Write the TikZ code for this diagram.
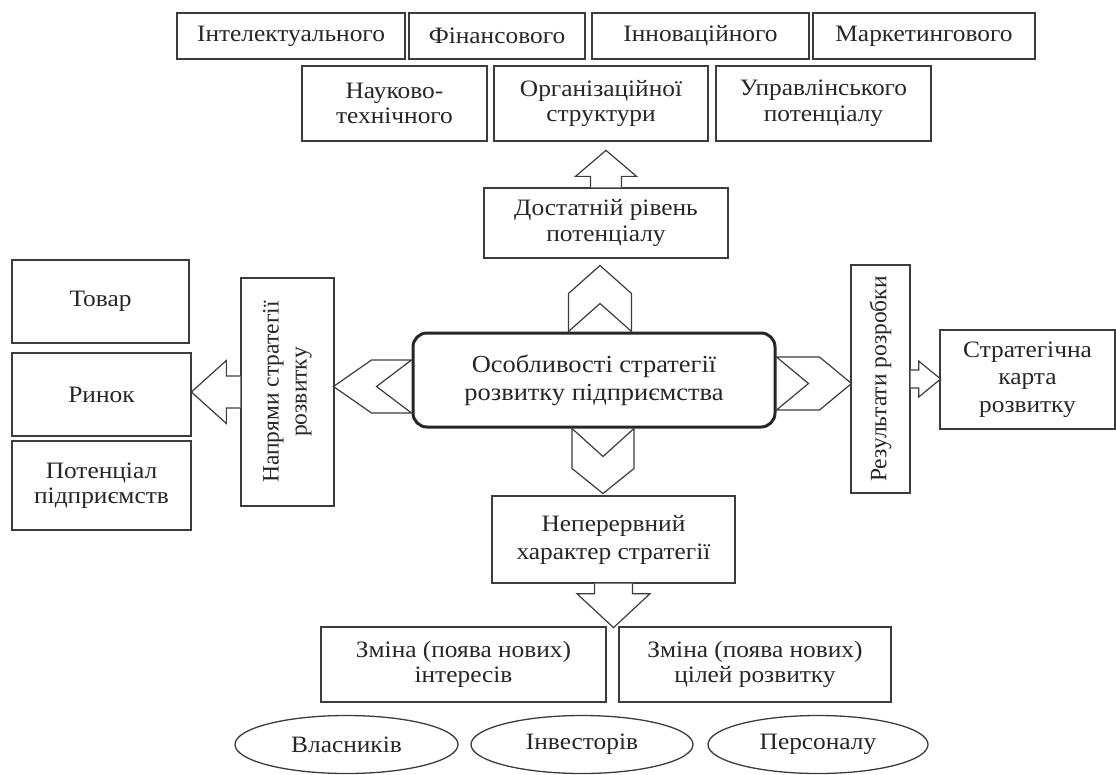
\documentclass[tikz,border=0pt]{standalone}
\usepackage{fontspec}
\setmainfont{Liberation Serif}[FakeStretch=1.08]
\newfontfamily\rotfont{Liberation Serif}
\usetikzlibrary{calc,shapes.geometric}
\definecolor{edge}{HTML}{3C3C3C}

\begin{document}
\begin{tikzpicture}[x=1pt, y=-1pt, box/.style={draw=edge, line width=1.3pt, fill=white, inner sep=0pt, align=center, text=black!85, font=\fontsize{23.5}{25.5}\selectfont}, core/.style={box, draw=black!85, line width=3pt, rounded corners=14pt, font=\fontsize{24.5}{28}\selectfont}, oval/.style={box, ellipse}, sideways/.style={box, rotate=90, font=\rotfont\fontsize{23.5}{28}\selectfont}, blk/.style={draw=edge, line width=1.2pt, fill=white}]
        \useasboundingbox (0,0) rectangle (1116,774);
        \node[box, minimum width=228pt, minimum height=46pt] (intel) at (291,36) {Інтелектуального};
        \node[box, minimum width=176pt, minimum height=46pt] (fin) at (497,36) {Фінансового};
        \node[box, minimum width=217pt, minimum height=46pt] (innov) at (700.5,36) {Інноваційного};
        \node[box, minimum width=222pt, minimum height=46pt] (market) at (924,36) {Маркетингового};
        \node[box, minimum width=185pt, minimum height=75pt] (sci) at (394.5,103.5) {Науково-\\технічного};
        \node[box, minimum width=214pt, minimum height=75pt] (org) at (601,103.5) {Організаційної\\структури};
        \node[box, minimum width=215pt, minimum height=75pt] (manag) at (823.5,103.5) {Управлінського\\потенціалу};
        \node[box, minimum width=244pt, minimum height=70pt] (dost) at (606,223) {Достатній рівень\\потенціалу};
        \node[core, minimum width=362pt, minimum height=94pt] (core) at (594,380) {Особливості стратегії\\розвитку підприємства};
        \node[sideways, minimum width=228pt, minimum height=93pt] (napr) at (287.5,392) {Напрями стратегії\\розвитку};
        \node[box, minimum width=177pt, minimum height=83pt] (tovar) at (100.5,301.5) {Товар};
        \node[box, minimum width=179pt, minimum height=83pt] (rynok) at (101.5,394.5) {Ринок};
        \node[box, minimum width=179pt, minimum height=89pt] (potenc) at (101.5,485.5) {Потенціал\\підприємств};
        \node[sideways, minimum width=228pt, minimum height=59pt] (rezult) at (880.5,379) {Результати розробки};
        \node[box, minimum width=175pt, minimum height=99pt, font=\fontsize{23.5}{27.5}\selectfont] (strat) at (1027.5,379.5) {Стратегічна\\карта\\розвитку};
        \node[box, minimum width=243pt, minimum height=87pt, font=\fontsize{23.5}{28}\selectfont] (nep) at (613.5,539.5) {Неперервний\\характер стратегії};
        \node[box, minimum width=285pt, minimum height=75pt] (zmina1) at (463.5,664.5) {Зміна (поява нових)\\інтересів};
        \node[box, minimum width=272pt, minimum height=75pt] (zmina2) at (755,664.5) {Зміна (поява нових)\\цілей розвитку};
        \node[oval, minimum width=223pt, minimum height=58pt] (vlasn) at (346.5,744.5) {Власників};
        \node[oval, minimum width=222pt, minimum height=58pt] (invest) at (582,744.5) {Інвесторів};
        \node[oval, minimum width=220pt, minimum height=58pt] (pers) at (818,744.5) {Персоналу};
        \draw[blk] ($(dost.north)+(-15.5,0)$) -- ++(0,-11) -- ++(-15,0) -- ++(30.5,-26) -- ++(30.5,26) -- ++(-15,0) -- ++(0,11);
        \draw[blk] ($(napr.north)+(0,-16)$) -- ++(-14,0) -- ++(0,-15.5) -- ++(-35,31.5) -- ++(35,31.5) -- ++(0,-15.5) -- ++(14,0);
        \draw[blk] ($(rezult.south)+(0,-9)$) -- ++(8,0) -- ++(0,-9) -- ++(22,18) -- ++(-22,18) -- ++(0,-9) -- ++(-8,0);
        \draw[blk] ($(nep.south)+(-19,0)$) -- ++(0,10) -- ++(-17.5,0) -- ++(36.5,34) -- ++(36.5,-34) -- ++(-17.5,0) -- ++(0,-10);
        \draw[blk] ($(core.north)+(-25.5,0)$) -- ++(0,-38) -- ++(31.5,-28) -- ++(31.5,28) -- ++(0,38) -- ++(-31.5,-28) -- cycle;
        \draw[blk] ($(core.south)+(-22,0)$) -- ++(0,40) -- ++(31,25) -- ++(31,-25) -- ++(0,-40) -- ++(-31,28) -- cycle;
        \draw[blk] ($(core.west)+(0,-20)$) -- ++(-40,0) -- ++(-38,26.5) -- ++(38,26.5) -- ++(40,0) -- ++(-35,-26.5) -- cycle;
        \draw[blk] ($(core.east)+(0,-23)$) -- ++(43,0) -- ++(32,26.5) -- ++(-32,26.5) -- ++(-43,0) -- ++(32,-26.5) -- cycle;
      \end{tikzpicture}
\end{document}
